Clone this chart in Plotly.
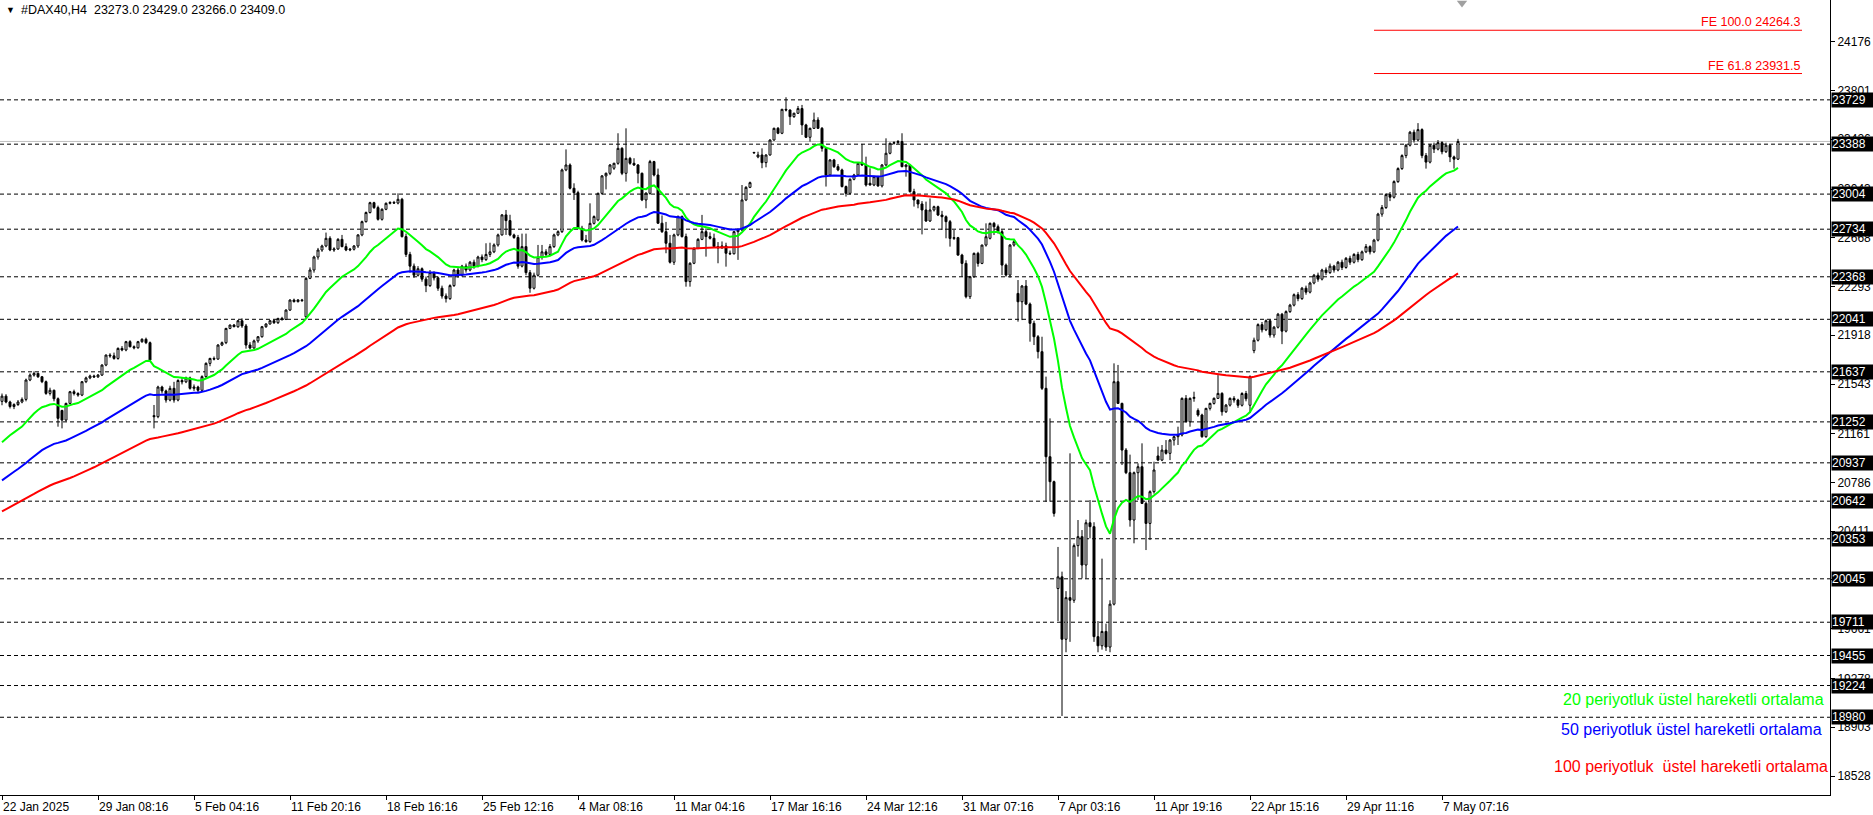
import plotly.graph_objects as go

# ---------------- data ----------------
opens = [
 21410,21450,21405,21370,21385,21405,21425,21574,21612,21625, 21599,21561,21471,21495,21430,21340,21266,21394,21484,21470,
 21458,21561,21590,21605,21598,21612,21689,21766,21760,21740, 21817,21805,21869,21830,21822,21869,21887,21861,21300,21292,
 21520,21490,21420,21510,21420,21570,21560,21590,21510,21520, 21495,21600,21702,21740,21735,21843,21861,21971,21997,21984,
 22030,21990,21843,21820,21875,21907,21984,22005,22030,22015, 22048,22040,22112,22189,22177,22190,22061,22356,22420,22520,
 22574,22605,22664,22574,22582,22656,22600,22574,22580,22605, 22690,22792,22862,22938,22900,22810,22887,22933,22940,22935,
 22964,22677,22540,22450,22380,22430,22350,22300,22400,22360, 22280,22220,22200,22300,22420,22380,22450,22420,22480,22450,
 22520,22500,22540,22560,22613,22690,22844,22800,22690,22670, 22450,22600,22400,22280,22380,22520,22560,22540,22600,22690,
 22715,23190,23228,23049,23015,22741,22651,22638,22779,22805, 23010,23144,23164,23203,23241,23356,23164,23279,23241,23228,
 23164,22959,23010,23254,23151,22780,22715,22626,22480,22690, 22831,22677,22331,22472,22587,22656,22715,22677,22664,22600,
 22590,22605,22549,22545,22715,22728,22959,23056,23320,23290, 23305,23246,23305,23420,23510,23472,23656,23651,23600,23626,
 23662,23536,23441,23510,23574,23510,23356,23151,23267,23215, 23190,23062,23010,23118,23151,23241,23228,23087,23074,23138,
 23067,23228,23318,23395,23400,23408,23215,23228,23023,22959, 22928,22882,22797,22882,22907,22843,22830,22792,22663,22669,
 22535,22471,22215,22369,22548,22471,22612,22664,22779,22753, 22715,22458,22381,22612,22240,22176,22297,22158,22010,21907,
 21792,21510,20984,20792,19970,20060,19580,19900,19880,20300, 20369,20151,20476,20446,19600,19530,19640,19520,19850,21561,
 21394,21035,20861,20497,20861,20907,20625,20471,20715,20990, 20958,21035,21010,21112,21138,21151,21433,21253,21433,21340,
 21305,21138,21356,21394,21433,21471,21330,21381,21433,21420, 21380,21470,21380,21800,21880,22000,21960,22030,21920,21980,
 22080,21950,22100,22150,22230,22200,22280,22250,22320,22380, 22350,22420,22400,22450,22420,22480,22440,22510,22480,22540,
 22500,22560,22600,22560,22650,22850,22900,23000,22980,23100, 23200,23300,23380,23480,23420,23500,23300,23250,23380,23350,
 23400,23330,23380,23290,23273,
]
highs = [
 21470,21465,21415,21395,21420,21440,21585,21625,21640,21630, 21605,21570,21515,21500,21440,21345,21400,21490,21500,21480,
 21565,21600,21615,21615,21620,21695,21770,21780,21785,21825, 21835,21875,21880,21840,21875,21895,21900,21870,21382,21530,
 21530,21500,21530,21560,21580,21590,21600,21600,21540,21530, 21610,21710,21745,21755,21850,21870,21975,22000,22005,22035,
 22048,22005,21865,21885,21912,21990,22010,22035,22040,22052, 22060,22118,22195,22200,22195,22198,22365,22440,22530,22590,
 22615,22708,22680,22595,22665,22690,22625,22590,22612,22695, 22800,22870,22945,22945,22915,22895,22940,22948,22952,23010,
 22975,22700,22560,22470,22450,22440,22370,22420,22410,22370, 22300,22240,22310,22430,22440,22460,22470,22490,22500,22530,
 22540,22626,22630,22625,22700,22850,22882,22845,22700,22690, 22700,22700,22420,22400,22613,22613,22580,22620,22700,22725,
 23200,23348,23240,23087,23030,22760,22690,22933,22840,23015, 23150,23170,23235,23245,23472,23365,23510,23290,23280,23235,
 23170,23020,23267,23260,23200,22840,22790,22690,22700,22840, 22840,22700,22480,22595,22665,22844,22740,22710,22700,22635,
 22640,22630,22570,22720,22740,23074,23065,23100,23330,23330, 23356,23310,23425,23515,23520,23660,23749,23655,23630,23682,
 23690,23545,23515,23631,23595,23520,23365,23272,23275,23235, 23200,23070,23125,23160,23250,23390,23292,23203,23145,23145,
 23235,23433,23400,23410,23420,23472,23235,23235,23045,22960, 22950,22946,22971,22915,22915,22875,22840,22805,22728,22675,
 22545,22495,22375,22555,22560,22615,22779,22785,22790,22770, 22730,22470,22620,22650,22343,22305,22343,22170,22030,21920,
 21907,21600,21279,20800,20290,20100,19950,21010,20317,20497, 20420,20500,20651,20480,19720,20200,19700,19880,21702,21690,
 21400,21050,21000,20870,20933,21087,20640,20725,20946,21061, 21074,21112,21120,21145,21215,21440,21458,21440,21484,21356,
 21315,21360,21400,21440,21612,21480,21390,21440,21450,21430, 21480,21490,21610,21900,22010,22020,22040,22040,21990,22090,
 22090,22110,22160,22240,22250,22290,22300,22330,22390,22400, 22430,22440,22470,22460,22490,22500,22520,22530,22550,22560,
 22570,22620,22610,22660,22860,22920,23010,23020,23110,23210, 23310,23390,23490,23500,23550,23510,23320,23390,23400,23420,
 23410,23400,23390,23300,23429,
]
lows = [
 21380,21395,21355,21350,21375,21395,21410,21565,21600,21590, 21550,21460,21455,21410,21215,21202,21255,21390,21455,21445,
 21450,21550,21580,21590,21590,21605,21680,21745,21730,21730, 21795,21795,21825,21810,21815,21860,21850,21720,21202,21280,
 21470,21400,21410,21400,21410,21540,21550,21500,21490,21480, 21490,21590,21680,21725,21730,21835,21850,21965,21980,21975,
 21975,21815,21810,21815,21860,21900,21975,22000,22005,22005, 22030,22035,22105,22170,22170,22175,22048,22350,22400,22500,
 22560,22595,22565,22560,22575,22595,22565,22565,22570,22590, 22680,22785,22855,22890,22800,22800,22880,22925,22930,22925,
 22670,22520,22400,22360,22370,22330,22250,22290,22340,22260, 22200,22170,22190,22290,22360,22370,22400,22410,22430,22440,
 22480,22490,22520,22550,22600,22685,22690,22680,22660,22430, 22440,22380,22245,22270,22370,22500,22520,22530,22590,22680,
 22705,23180,23040,22959,22735,22640,22630,22630,22770,22795, 23000,23040,23150,23190,23230,23150,23100,23230,23220,23087,
 22950,22895,23000,23140,22775,22705,22549,22470,22459,22680, 22670,22292,22292,22465,22580,22650,22523,22655,22590,22472,
 22585,22446,22535,22540,22498,22720,22950,23050,23316,23280, 23203,23210,23300,23415,23465,23465,23640,23536,23590,23620,
 23459,23435,23408,23505,23505,23331,23062,23140,23205,23180, 23055,22985,23000,23110,23145,23220,23062,23070,23065,23060,
 23055,23220,23310,23385,23390,23210,23138,23015,22908,22895, 22694,22790,22790,22870,22835,22728,22664,22600,22651,22530,
 22369,22202,22197,22360,22446,22465,22600,22655,22689,22700, 22381,22369,22361,22600,22023,22035,22150,21869,21843,21740,
 21497,20638,20638,20523,19720,18990,19480,19560,19860,20215, 20048,20048,20356,19560,19480,19500,19490,19480,19840,21390,
 20920,20850,20446,20318,20651,20620,20266,20343,20700,20950, 20950,21000,20958,21070,21074,21140,21250,21215,21407,21292,
 21130,21130,21340,21385,21430,21300,21320,21370,21400,21360, 21370,21410,21320,21780,21870,21940,21950,21900,21900,21970,
 21850,21940,22090,22140,22180,22190,22230,22240,22310,22330, 22340,22380,22390,22400,22410,22420,22430,22460,22470,22480,
 22490,22550,22540,22550,22640,22830,22890,22950,22970,23090, 23190,23280,23370,23400,23410,23280,23200,23240,23320,23340,
 23310,23320,23250,23200,23266,
]
closes = [
 21450,21405,21370,21385,21405,21425,21574,21612,21625,21599, 21561,21471,21495,21430,21279,21266,21394,21484,21470,21458,
 21561,21590,21605,21598,21612,21689,21766,21760,21740,21817, 21805,21869,21830,21822,21869,21887,21861,21728,21292,21520,
 21490,21420,21510,21420,21570,21560,21590,21510,21520,21495, 21600,21702,21740,21735,21843,21861,21971,21997,21984,22030,
 21990,21843,21820,21875,21907,21984,22005,22030,22015,22048, 22040,22112,22189,22177,22190,22185,22356,22420,22520,22574,
 22605,22664,22574,22582,22656,22600,22574,22580,22605,22690, 22792,22862,22938,22900,22810,22887,22933,22940,22935,22964,
 22677,22540,22450,22380,22430,22350,22300,22400,22360,22280, 22220,22200,22300,22420,22380,22450,22420,22480,22450,22520,
 22500,22540,22560,22613,22690,22844,22800,22690,22670,22450, 22600,22400,22280,22380,22520,22560,22540,22600,22690,22715,
 23190,23228,23049,23015,22741,22651,22638,22779,22831,23010, 23144,23164,23228,23241,23356,23164,23279,23241,23228,23164,
 22959,23010,23254,23151,22780,22715,22626,22480,22690,22831, 22677,22331,22472,22587,22656,22715,22677,22664,22600,22590,
 22605,22549,22545,22715,22728,22959,23056,23092,23324,23305, 23246,23305,23420,23510,23472,23656,23651,23600,23626,23662,
 23536,23441,23510,23574,23510,23356,23151,23267,23215,23190, 23062,23010,23118,23151,23241,23228,23074,23074,23138,23067,
 23228,23318,23395,23400,23408,23215,23228,23023,22959,22928, 22882,22797,22882,22907,22843,22830,22792,22663,22669,22535,
 22471,22215,22369,22548,22471,22612,22676,22779,22753,22715, 22458,22381,22612,22638,22176,22297,22158,22010,21907,21792,
 21510,20984,20792,20548,20060,19580,19900,19880,20300,20369, 20151,20476,20446,19600,19530,19640,19520,19850,21561,21394,
 21035,20861,20497,20861,20907,20625,20471,20715,20882,20958, 21035,21010,21112,21138,21151,21433,21253,21433,21440,21305,
 21138,21356,21394,21433,21471,21330,21381,21433,21420,21380, 21470,21430,21600,21880,22000,21960,22030,21920,21980,22080,
 21950,22100,22150,22230,22200,22280,22250,22320,22380,22350, 22420,22400,22450,22420,22480,22440,22510,22480,22540,22500,
 22560,22600,22560,22650,22850,22900,23000,22980,23100,23200, 23300,23380,23480,23420,23500,23300,23250,23380,23350,23400,
 23330,23380,23290,23273,23409,
]

levels = [23729, 23388, 23004, 22734, 22368, 22041, 21637, 21252,
          20937, 20642, 20353, 20045, 19711, 19455, 19224, 18980]
price_ticks = [24176, 23801, 23426, 23043, 22668, 22293, 21918, 21543,
               21161, 20786, 20411, 20036, 19661, 19278, 18903, 18528]
time_label_bars = [0, 24, 48, 72, 96, 120, 144, 168, 192, 216, 240, 264, 288, 312, 336, 360]
time_labels = ["22 Jan 2025", "29 Jan 08:16", "5 Feb 04:16", "11 Feb 20:16", "18 Feb 16:16",
               "25 Feb 12:16", "4 Mar 08:16", "11 Mar 04:16", "17 Mar 16:16", "24 Mar 12:16",
               "31 Mar 07:16", "7 Apr 03:16", "11 Apr 19:16", "22 Apr 15:16", "29 Apr 11:16",
               "7 May 07:16"]
ema_periods = [20, 50, 100]
ema_start_values = [21096, 20802, 20563]
ema_colors = ["#00FF00", "#0000FF", "#FF0000"]
legend_texts = ["20 periyotluk üstel hareketli ortalama",
                "50 periyotluk üstel hareketli ortalama",
                "100 periyotluk  üstel hareketli ortalama"]
fe_levels = [24264.3, 23931.5]
fe_texts = ["FE 100.0 24264.3", "FE 61.8 23931.5"]
fe_start_bar = 343
fe_end_bar = 450
bid_price = 23409.0
header_text = "#DAX40,H4  23273.0 23429.0 23266.0 23409.0"

# ---------------- layout constants ----------------
W, H = 1873, 815
ML, MR, MT, MB = 0, 43, 0, 20
PW, PH = W - ML - MR, H - MT - MB
Y_TOP, Y_BOT = 24497, 18382
X_LO, X_HI = -0.5, 457
FONT = "Liberation Sans, Arial, sans-serif"


def px(xp):
    return xp / PW


def py(yp):
    return 1 - yp / PH


def ema(values, period, start):
    a = 2.0 / (period + 1)
    out = [start]
    for v in values[1:]:
        out.append(out[-1] + a * (v - out[-1]))
    return out


n = len(closes)
xs = list(range(n))
highs = [max(h, o, c) for h, o, c in zip(highs, opens, closes)]
lows = [min(l, o, c) for l, o, c in zip(lows, opens, closes)]

fig = go.Figure()

fig.add_trace(go.Candlestick(
    x=xs, open=opens, high=highs, low=lows, close=closes,
    increasing=dict(line=dict(color="black", width=1), fillcolor="white"),
    decreasing=dict(line=dict(color="black", width=1), fillcolor="black"),
    whiskerwidth=0, showlegend=False, hoverinfo="skip"))

for p, s, col in zip(ema_periods, ema_start_values, ema_colors):
    fig.add_trace(go.Scatter(x=xs, y=ema(closes, p, s), mode="lines",
                             line=dict(color=col, width=2), showlegend=False,
                             hoverinfo="skip"))

# chart-shift marker
fig.add_trace(go.Scatter(x=[n], y=[Y_TOP - 3 * (Y_TOP - Y_BOT) / PH], mode="markers",
                         marker=dict(symbol="triangle-down", size=9, color="#A0A0A0"),
                         cliponaxis=False, showlegend=False, hoverinfo="skip"))

shapes = []
for lv in levels:
    shapes.append(dict(type="line", xref="paper", yref="y", x0=0, x1=1, y0=lv, y1=lv,
                       line=dict(color="black", width=1, dash="4px,3px"), layer="below"))
shapes.append(dict(type="line", xref="paper", yref="y", x0=0, x1=1, y0=bid_price, y1=bid_price,
                   line=dict(color="#C0C0C0", width=1), layer="below"))
for lv in fe_levels:
    shapes.append(dict(type="line", xref="x", yref="y", x0=fe_start_bar, x1=fe_end_bar,
                       y0=lv, y1=lv, line=dict(color="#FF0000", width=1)))

ann = []
for lv in levels:
    ann.append(dict(xref="paper", yref="y", x=1, y=lv, xanchor="left", yanchor="middle",
                    xshift=1, text=str(lv), showarrow=False, bgcolor="black",
                    font=dict(color="white", size=12, family=FONT), borderpad=0,
                    width=41, height=14, align="left"))
for b, t in zip(time_label_bars, time_labels):
    ann.append(dict(xref="x", yref="paper", x=b, y=0, xanchor="left", yanchor="top",
                    xshift=-1, yshift=-3, text=t, showarrow=False,
                    font=dict(color="black", size=12, family=FONT)))
for lv, t in zip(fe_levels, fe_texts):
    ann.append(dict(xref="x", yref="y", x=fe_end_bar, y=lv, xanchor="right", yanchor="bottom",
                    yshift=-1, text=t, showarrow=False,
                    font=dict(color="#FF0000", size=12.5, family=FONT)))
leg_y = [699, 729, 766]
leg_x = [1826, 1824, 1830]
for t, c, yy, xx in zip(legend_texts, ema_colors, leg_y, leg_x):
    ann.append(dict(xref="paper", yref="paper", x=px(xx), y=py(yy), xanchor="right",
                    yanchor="middle", text=t.replace("  ", "&nbsp; "), showarrow=False,
                    font=dict(color=c, size=16, family=FONT)))
ann.append(dict(xref="paper", yref="paper", x=px(4), y=py(10), xanchor="left", yanchor="middle",
                text="▼", showarrow=False, font=dict(color="black", size=9, family=FONT)))
ann.append(dict(xref="paper", yref="paper", x=px(19), y=py(10), xanchor="left", yanchor="middle",
                text=header_text.replace("  ", "&nbsp; "), showarrow=False,
                font=dict(color="black", size=12.5, family=FONT)))

fig.update_layout(
    width=W, height=H, margin=dict(l=ML, r=MR, t=MT, b=MB),
    paper_bgcolor="white", plot_bgcolor="white",
    shapes=shapes, annotations=ann, showlegend=False,
    xaxis=dict(range=[X_LO, X_HI], showgrid=False, zeroline=False, showline=True,
               linecolor="black", linewidth=1, mirror=True, ticks="outside", ticklen=4,
               tickcolor="black", tickvals=time_label_bars,
               ticktext=["" for _ in time_label_bars], rangeslider=dict(visible=False),
               fixedrange=True),
    yaxis=dict(range=[Y_BOT, Y_TOP], side="right", showgrid=False, zeroline=False,
               showline=True, linecolor="black", linewidth=1, mirror=True,
               ticks="outside", ticklen=4, tickcolor="black", tickvals=price_ticks,
               ticktext=[str(t) for t in price_ticks],
               tickfont=dict(color="black", size=12, family=FONT), fixedrange=True),
)

fig.write_html("out.html", config={"displayModeBar": False},
               post_script="document.body.style.margin='0';document.body.style.overflow='hidden';")
